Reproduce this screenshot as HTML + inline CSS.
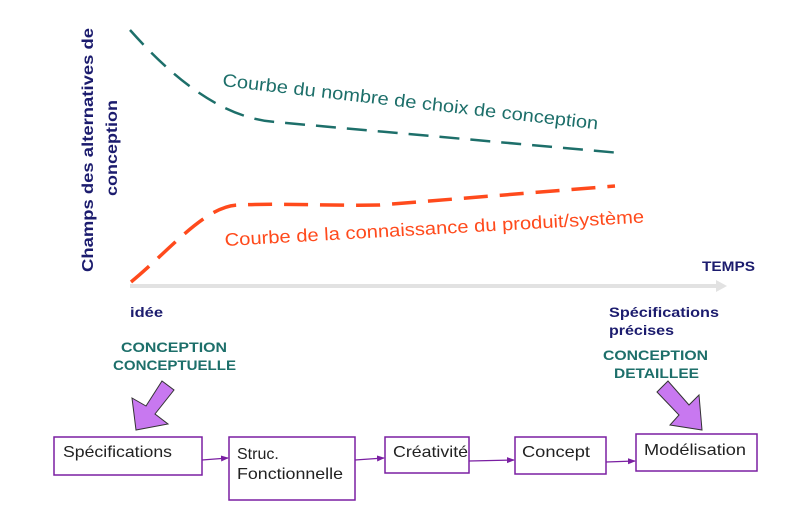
<!DOCTYPE html>
<html><head><meta charset="utf-8"><style>
html,body{margin:0;padding:0;background:#fff;width:800px;height:510px;overflow:hidden}
svg{display:block}
text{font-family:"Liberation Sans",Arial,sans-serif}
</style></head><body>
<svg width="800" height="510" viewBox="0 0 800 510">
<defs>
<marker id="ah" markerWidth="8" markerHeight="8" refX="7" refY="4" orient="auto" markerUnits="userSpaceOnUse"><path d="M0,1 L8,4 L0,7 Z" fill="#7a1fa2"/></marker>
</defs>
<line x1="130" y1="286" x2="718" y2="286" stroke="#e2e2e2" stroke-width="4"/>
<path d="M716,280 L727,286 L716,292 Z" fill="#e2e2e2"/>
<path d="M130,30 C170,75 220,118 275,122 L620,153" fill="none" stroke="#1d6f6a" stroke-width="2.5" stroke-dasharray="20,11"/>
<path d="M131,282 C170,250 205,206 238,205 C280,203 330,206 380,205 L615,186" fill="none" stroke="#ff4a1c" stroke-width="3.5" stroke-dasharray="24,12"/>
<g font-weight="bold" fill="#1c1c6e" lengthAdjust="spacingAndGlyphs">
<text transform="translate(93,150) rotate(-90)" text-anchor="middle" font-size="16" textLength="244" lengthAdjust="spacingAndGlyphs">Champs des alternatives de</text>
<text transform="translate(117,148) rotate(-90)" text-anchor="middle" font-size="16" textLength="96" lengthAdjust="spacingAndGlyphs">conception</text>
</g>
<text transform="translate(222,86) rotate(6.6)" font-size="18" fill="#1d6f6a" textLength="378" lengthAdjust="spacingAndGlyphs">Courbe du nombre de choix de conception</text>
<text transform="translate(225,246) rotate(-3.2)" font-size="18" fill="#ff4a1c" textLength="420" lengthAdjust="spacingAndGlyphs">Courbe de la connaissance du produit/système</text>
<g font-size="13.5" font-weight="bold" fill="#1c1c6e">
<text x="702" y="271" textLength="53" lengthAdjust="spacingAndGlyphs">TEMPS</text>
<text x="130" y="317" textLength="33" lengthAdjust="spacingAndGlyphs">idée</text>
<text x="609" y="317" textLength="110" lengthAdjust="spacingAndGlyphs">Spécifications</text>
<text x="609" y="335" textLength="65" lengthAdjust="spacingAndGlyphs">précises</text>
</g>
<g font-size="13.5" font-weight="bold" fill="#1d6f6a">
<text x="121" y="352" textLength="106" lengthAdjust="spacingAndGlyphs">CONCEPTION</text>
<text x="113" y="370" textLength="123" lengthAdjust="spacingAndGlyphs">CONCEPTUELLE</text>
<text x="603" y="360" textLength="105" lengthAdjust="spacingAndGlyphs">CONCEPTION</text>
<text x="614" y="378" textLength="85" lengthAdjust="spacingAndGlyphs">DETAILLEE</text>
</g>
<path d="M162,381 L174,390 L155,414 L168,424 L136,430 L132,398 L146,406 Z" fill="#c878f0" stroke="#333" stroke-width="1"/>
<path d="M657,392 L668,381 L689,405 L699,395 L702,430 L670,425 L679,415 Z" fill="#c878f0" stroke="#333" stroke-width="1"/>
<g fill="#fff" stroke="#7a1fa2" stroke-width="1.5">
<rect x="54" y="437" width="148" height="38"/>
<rect x="229" y="437" width="126" height="63"/>
<rect x="385" y="437" width="84" height="36"/>
<rect x="515" y="437" width="91" height="37"/>
<rect x="636" y="434" width="121" height="37"/>
</g>
<g font-size="16" fill="#222">
<text x="63" y="457" textLength="109" lengthAdjust="spacingAndGlyphs">Spécifications</text>
<text x="237" y="459">Struc.</text>
<text x="237" y="479" textLength="106" lengthAdjust="spacingAndGlyphs">Fonctionnelle</text>
<text x="393" y="457" textLength="75" lengthAdjust="spacingAndGlyphs">Créativité</text>
<text x="522" y="457" textLength="68" lengthAdjust="spacingAndGlyphs">Concept</text>
<text x="644" y="455" textLength="102" lengthAdjust="spacingAndGlyphs">Modélisation</text>
</g>
<g stroke="#7a1fa2" stroke-width="1.2" marker-end="url(#ah)">
<line x1="202" y1="460" x2="228" y2="458"/>
<line x1="355" y1="460" x2="384" y2="458"/>
<line x1="469" y1="461" x2="514" y2="460"/>
<line x1="606" y1="462" x2="635" y2="461"/>
</g>
</svg>
</body></html>
